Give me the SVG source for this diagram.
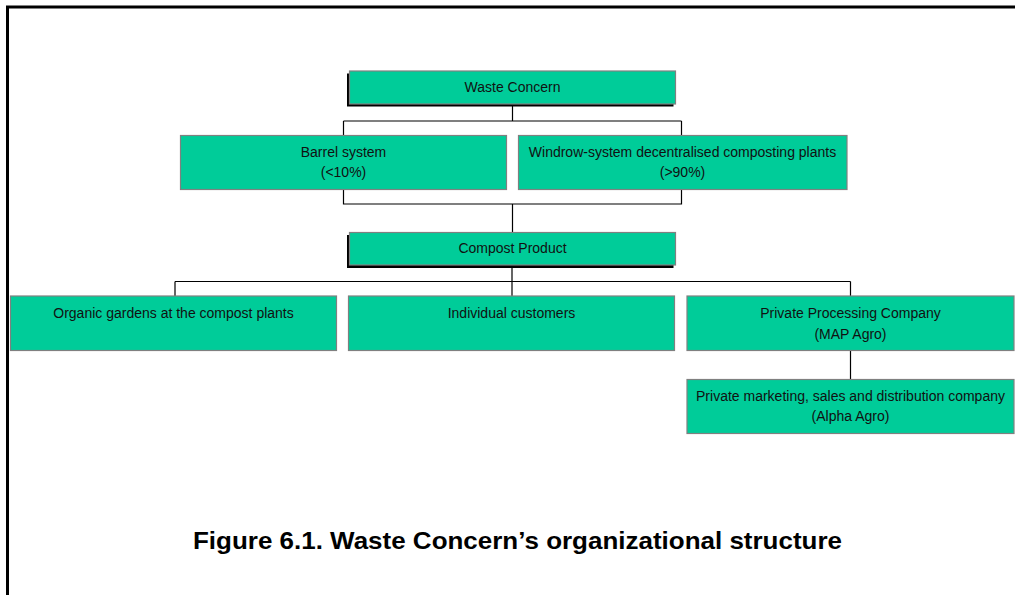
<svg xmlns="http://www.w3.org/2000/svg" width="1015" height="595" viewBox="0 0 1015 595">
<style>
.box{fill:#00CC99;stroke:#808080;stroke-width:1.2}
.shadow{fill:#000}
.t{font-family:"Liberation Sans",Arial,sans-serif;font-size:14px;fill:#111;text-anchor:middle}
.c{fill:none;stroke:#000;stroke-width:1.2}
.frame{fill:none;stroke:#000;stroke-width:3}
.title{font-family:"Liberation Sans",Arial,sans-serif;font-size:24px;font-weight:bold;fill:#000}
</style>
<rect width="1015" height="595" fill="#fff"/>
<path class="frame" d="M7.5 600 V7 H1020"/>
<g id="connectors">
<path class="c" d="M512.5 104 V121 M343.5 121 H681.5 M343.5 121 V135.5 M681.5 121 V135.5"/>
<path class="c" d="M343.5 189.5 V204 H681.5 V189.5 M512.5 204 V232"/>
<path class="c" d="M512 265 V281.5 M175 281.5 H850.5 M175 281.5 V296 M512 281.5 V296 M850.5 281.5 V296"/>
<path class="c" d="M850.5 350.5 V379.5"/>
</g>
<g id="waste-concern">
<rect class="shadow" x="347" y="73.5" width="326.5" height="33"/>
<rect class="box" x="349.5" y="71" width="326" height="33"/>
<text class="t" x="512.5" y="92">Waste Concern</text>
</g>
<g id="barrel-system">
<rect class="box" x="180.5" y="135.5" width="326" height="54"/>
<text class="t" x="343.5" y="157">Barrel system</text>
<text class="t" x="343.5" y="177">(&lt;10%)</text>
</g>
<g id="windrow-system">
<rect class="box" x="518.5" y="135.5" width="328.5" height="54"/>
<text class="t" x="682.5" y="157">Windrow-system decentralised composting plants</text>
<text class="t" x="682.5" y="177">(&gt;90%)</text>
</g>
<g id="compost-product">
<rect class="shadow" x="347" y="235" width="326.5" height="33"/>
<rect class="box" x="349.5" y="232.5" width="326" height="32.5"/>
<text class="t" x="512.5" y="253">Compost Product</text>
</g>
<g id="organic-gardens">
<rect class="box" x="10.5" y="296" width="326" height="54.5"/>
<text class="t" x="173.5" y="318">Organic gardens at the compost plants</text>
</g>
<g id="individual-customers">
<rect class="box" x="348.5" y="296" width="326" height="54.5"/>
<text class="t" x="511.5" y="318">Individual customers</text>
</g>
<g id="private-processing">
<rect class="box" x="687" y="296" width="327" height="54.5"/>
<text class="t" x="850.5" y="318">Private Processing Company</text>
<text class="t" x="850.5" y="339">(MAP Agro)</text>
</g>
<g id="private-marketing">
<rect class="box" x="687" y="379.5" width="327" height="54"/>
<text class="t" x="850.5" y="401">Private marketing, sales and distribution company</text>
<text class="t" x="850.5" y="421">(Alpha Agro)</text>
</g>
<text class="title" x="193" y="549" textLength="649" lengthAdjust="spacingAndGlyphs">Figure 6.1. Waste Concern’s organizational structure</text>
</svg>
